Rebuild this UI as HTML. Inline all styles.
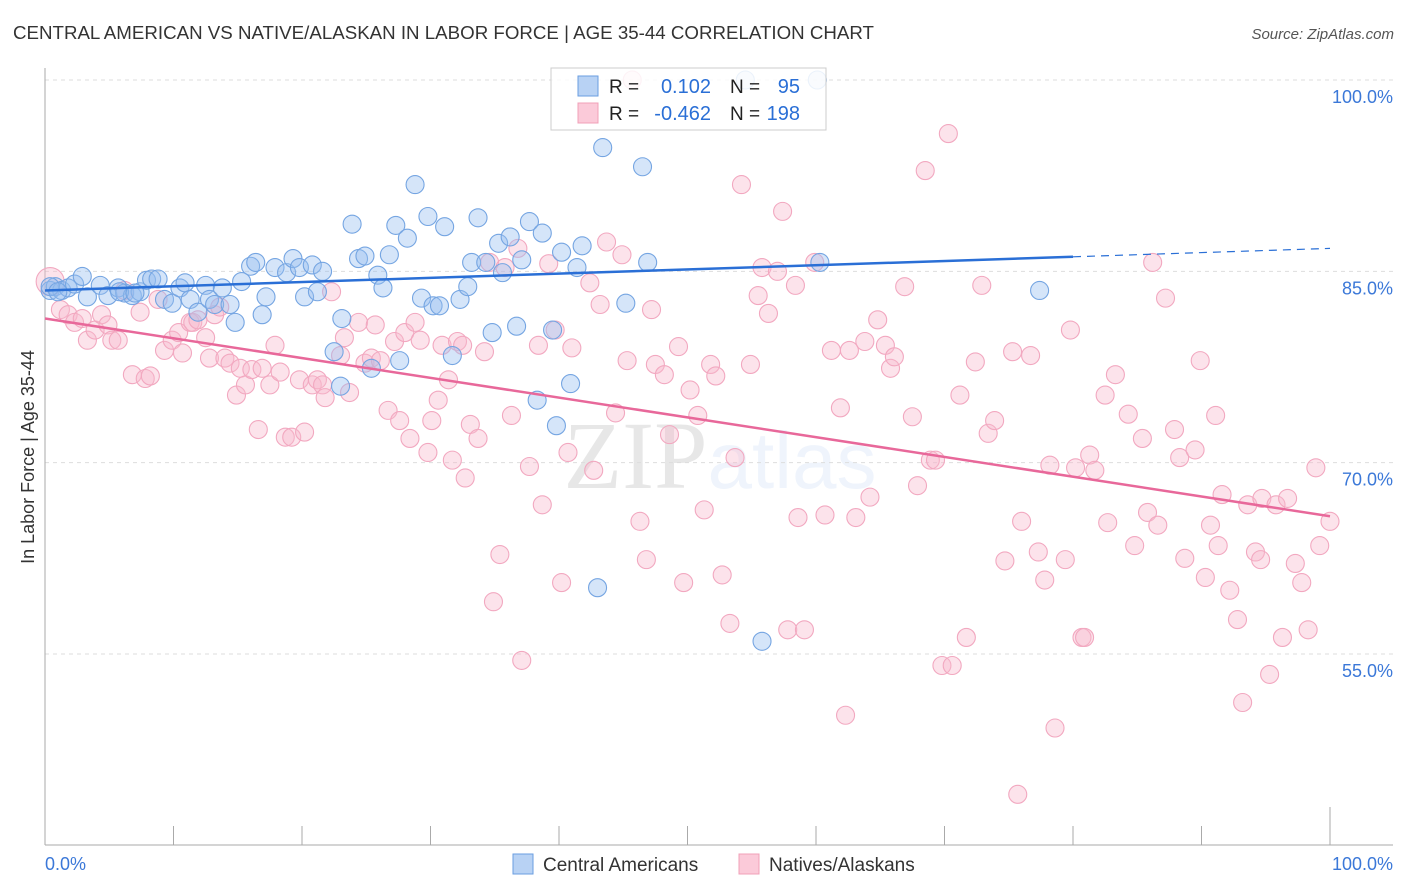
<!DOCTYPE html>
<html><head><meta charset="utf-8">
<style>
body{margin:0;background:#fff;font-family:"Liberation Sans",sans-serif;}
svg{display:block}
</style></head>
<body>
<svg id="chart" width="1406" height="892" xmlns="http://www.w3.org/2000/svg">
<text x="13" y="39" font-size="18" fill="#333" textLength="861" lengthAdjust="spacingAndGlyphs">CENTRAL AMERICAN VS NATIVE/ALASKAN IN LABOR FORCE | AGE 35-44 CORRELATION CHART</text>
<text x="1394" y="39" font-size="15" font-style="italic" fill="#555" text-anchor="end">Source: ZipAtlas.com</text>
<text x="720" y="488" font-size="96" text-anchor="middle" fill="#000" opacity="0.09" font-family="Liberation Serif">ZIP<tspan fill="#3b78d8" opacity="0.9" font-family="Liberation Sans" font-size="80">atlas</tspan></text>
<text transform="translate(34,457) rotate(-90)" font-size="18" fill="#333" text-anchor="middle">In Labor Force | Age 35-44</text>
<g id="grid"></g><g id="axes"></g><g id="pts"></g><g id="trend"></g>
<g>
<rect x="551" y="68" width="275" height="62" fill="#fff" fill-opacity="0.85" stroke="#ccc"/>
<rect x="578" y="76" width="20" height="20" fill="#b8d2f4" stroke="#6a9ee0"/>
<rect x="578" y="103" width="20" height="20" fill="#fbcad9" stroke="#f0a0b8"/>
<text x="609" y="93" font-size="19" fill="#222">R =</text>
<text x="711" y="93" font-size="20" fill="#2a6fd6" text-anchor="end">0.102</text>
<text x="730" y="93" font-size="19" fill="#222">N =</text>
<text x="800" y="93" font-size="20" fill="#2a6fd6" text-anchor="end">95</text>
<text x="609" y="120" font-size="19" fill="#222">R =</text>
<text x="711" y="120" font-size="20" fill="#2a6fd6" text-anchor="end">-0.462</text>
<text x="730" y="120" font-size="19" fill="#222">N =</text>
<text x="800" y="120" font-size="20" fill="#2a6fd6" text-anchor="end">198</text>
</g>
<g>
<rect x="513" y="854" width="20" height="20" fill="#b8d2f4" stroke="#6a9ee0"/>
<text x="543" y="871" font-size="19" fill="#333">Central Americans</text>
<rect x="739" y="854" width="20" height="20" fill="#fbcad9" stroke="#f0a0b8"/>
<text x="769" y="871" font-size="19" fill="#333">Natives/Alaskans</text>
</g>
</svg>
<script>
const yTicks=[100,85,70,55];
const yTickLabels=["100.0%","85.0%","70.0%","55.0%"];
const blueX=[0.4,0.8,1.3,1.8,2.3,2.9,3.3,4.3,4.9,5.7,6.2,6.8,7.4,7.9,8.3,8.8,9.3,9.9,10.5,10.9,11.3,11.9,12.5,12.8,13.2,13.8,14.4,14.8,15.3,16.0,16.4,16.9,17.2,17.9,18.8,19.3,19.8,20.2,20.8,21.2,21.6,23.1,22.5,23.0,23.9,24.4,24.9,25.4,25.9,26.3,26.8,27.3,27.6,28.2,28.8,29.3,29.8,30.2,30.7,31.1,31.7,32.3,32.9,33.2,33.7,34.3,34.8,35.3,35.6,36.2,36.7,37.1,37.7,38.3,38.7,39.5,39.8,40.2,40.9,41.4,41.8,43.0,43.4,45.2,46.5,46.9,54.5,55.8,60.1,60.3,77.4,0.4,1.0,5.8,7.0];
const blueY=[83.5,83.8,83.5,83.7,84.0,84.6,83.0,83.9,83.1,83.7,83.3,83.1,83.4,84.3,84.4,84.4,82.8,82.5,83.7,84.1,82.8,81.8,83.9,82.8,82.4,83.7,82.4,81.0,84.2,85.4,85.7,81.6,83.0,85.3,84.9,86.0,85.3,83.0,85.5,83.4,85.0,81.3,78.7,76.0,88.7,86.0,86.2,77.4,84.7,83.7,86.3,88.6,78.0,87.6,91.8,82.9,89.3,82.3,82.3,88.5,78.4,82.8,83.8,85.7,89.2,85.7,80.2,87.2,84.9,87.7,80.7,85.9,88.9,74.9,88.0,80.4,72.9,86.5,76.2,85.3,87.0,60.2,94.7,82.5,93.2,85.7,100.0,56.0,100.0,85.7,83.5,83.8,83.4,83.4,83.3];
const pinkX=[0.4,1.2,1.8,2.3,2.9,3.3,3.9,4.4,4.9,5.2,5.7,6.2,6.8,7.4,7.8,8.2,8.8,9.3,9.9,10.4,10.7,11.3,11.5,11.9,12.5,12.8,13.2,13.6,14.0,14.4,14.9,15.2,15.6,16.1,16.6,16.9,17.5,17.9,18.3,18.7,19.2,19.8,20.2,20.8,21.2,21.6,21.8,22.3,23.0,23.3,23.7,24.4,24.9,25.4,25.7,26.1,26.7,27.2,27.6,28.0,28.4,28.8,29.2,29.8,30.1,30.6,30.9,31.4,31.7,32.1,32.5,32.7,33.1,33.7,34.2,34.6,34.9,35.4,35.8,36.3,36.8,37.1,37.7,38.4,38.7,39.2,39.7,40.2,40.7,41.0,42.4,42.7,43.2,43.7,44.4,44.9,45.3,45.7,46.3,46.8,47.2,47.5,48.2,48.6,49.3,49.7,50.2,50.8,51.3,51.8,52.2,52.7,53.3,53.7,54.2,54.9,55.5,55.8,56.3,57.0,57.4,57.8,58.4,58.6,59.1,59.9,60.7,61.2,61.9,62.3,62.6,63.1,63.8,64.2,64.8,65.4,65.8,66.1,66.9,67.5,67.9,68.5,68.9,69.3,69.8,70.3,70.6,71.2,71.7,72.4,72.9,73.4,73.9,74.7,75.3,76.0,76.7,77.3,77.8,78.2,78.6,79.4,79.8,80.2,80.7,81.3,81.7,82.5,82.7,83.3,84.3,84.8,85.4,85.8,86.2,86.6,87.2,87.9,88.3,88.7,89.5,89.9,90.3,90.7,91.3,91.6,92.2,92.8,93.2,93.6,94.2,94.7,95.3,95.8,96.3,96.7,97.3,97.8,98.3,98.9,99.2,100,75.7,80.9,91.1,94.6];
const pinkY=[84.2,82.0,81.6,81.0,81.3,79.6,80.4,81.6,80.8,79.6,79.6,83.5,76.9,81.8,76.6,76.8,82.8,78.8,79.6,80.2,78.6,81.0,81.0,81.2,79.8,78.2,81.6,82.2,78.2,77.8,75.3,77.4,76.1,77.3,72.6,77.4,76.1,79.2,77.1,72.0,72.0,76.5,72.4,76.1,76.5,76.1,75.1,83.4,78.4,79.8,75.5,81.0,77.8,78.2,80.8,78.0,74.1,79.5,73.3,80.2,71.9,81.0,79.6,70.8,73.3,74.9,79.2,76.5,70.2,79.5,79.2,68.8,73.0,71.9,78.7,85.7,59.1,62.8,85.3,73.7,86.8,54.5,69.7,79.2,66.7,85.6,80.4,60.6,70.8,79.0,84.1,69.4,82.4,87.3,73.9,86.3,78.0,100.0,65.4,62.4,82.0,77.7,76.9,72.2,79.1,60.6,75.7,73.7,66.3,77.7,76.8,61.2,57.4,70.4,91.8,77.7,83.1,85.3,81.7,85.0,89.7,56.9,83.9,65.7,56.9,85.7,65.9,78.8,74.3,50.2,78.8,65.7,79.5,67.3,81.2,79.2,77.4,78.3,83.8,73.6,68.2,92.9,70.2,70.2,54.1,95.8,54.1,75.3,56.3,77.9,83.9,72.3,73.3,62.3,78.7,65.4,78.4,63.0,60.8,69.8,49.2,62.4,80.4,69.6,56.3,70.6,69.4,75.3,65.3,76.9,73.8,63.5,71.9,66.1,85.7,65.1,82.9,72.6,70.4,62.5,71.0,78.0,61.0,65.1,63.5,67.5,60.0,57.7,51.2,66.7,63.0,67.2,53.4,66.7,56.3,67.2,62.1,60.6,56.9,69.6,63.5,65.4,44.0,56.3,73.7,62.4];
const blueTrend=[83.5,86.8];   // y at x=0 and x=100
const pinkTrend=[81.3,65.8];
const blueSolidEnd=80;

const NS="http://www.w3.org/2000/svg";
const X=p=>45+p*12.85;
const Y=v=>80+(100-v)*12.756;
function mk(tag,attrs,parent){const e=document.createElementNS(NS,tag);for(const k in attrs)e.setAttribute(k,attrs[k]);parent.appendChild(e);return e;}
const grid=document.getElementById('grid'),axes=document.getElementById('axes'),pts=document.getElementById('pts'),trend=document.getElementById('trend');
yTicks.forEach((t,i)=>{
  const l=mk('line',{x1:45,x2:1393,y1:Y(t),y2:Y(t),stroke:'#ddd','stroke-dasharray':'4,4'},grid);
  
  
  const tx=mk('text',{x:1393,y:Y(t)+23,'font-size':18,fill:'#3b78d8','text-anchor':'end'},grid);
  tx.textContent=yTickLabels[i];
  
  
});
let a=mk('line',{x1:45,x2:45,y1:68,y2:845,stroke:'#aaa'},axes);


a=mk('line',{x1:45,x2:1393,y1:845,y2:845,stroke:'#aaa'},axes);


for(let i=1;i<=10;i++){
  const t=mk('line',{x1:X(i*10),x2:X(i*10),y1:i==10?807:826,y2:845,stroke:'#aaa'},axes);
  
  
}
let xl=mk('text',{x:45,y:870,'font-size':18,fill:'#3b78d8'},axes);xl.textContent='0.0%';


xl=mk('text',{x:1393,y:870,'font-size':18,fill:'#3b78d8','text-anchor':'end'},axes);xl.textContent='100.0%';



pinkX.forEach((x,i)=>{
  const c=mk('circle',{cx:X(x),cy:Y(pinkY[i]),r:i==0?14:9,fill:'rgba(248,185,205,0.4)',stroke:'#f2a8c0','stroke-width':1.1},pts);
  
  
});
blueX.forEach((x,i)=>{
  const c=mk('circle',{cx:X(x),cy:Y(blueY[i]),r:9,fill:'rgba(150,190,240,0.4)',stroke:'#75a5e2','stroke-width':1.1},pts);
  
  
});
const bAt=x=>blueTrend[0]+(blueTrend[1]-blueTrend[0])*x/100;
let tl=mk('line',{x1:X(0),y1:Y(bAt(0)),x2:X(blueSolidEnd),y2:Y(bAt(blueSolidEnd)),stroke:'#2a6fd6','stroke-width':2.5},trend);


tl=mk('line',{x1:X(blueSolidEnd),y1:Y(bAt(blueSolidEnd)),x2:X(100),y2:Y(bAt(100)),stroke:'#2a6fd6','stroke-width':1.2,'stroke-dasharray':'8,6'},trend);


tl=mk('line',{x1:X(0),y1:Y(pinkTrend[0]),x2:X(100),y2:Y(pinkTrend[1]),stroke:'#e8689a','stroke-width':2.5},trend);


</script>
</body></html>
